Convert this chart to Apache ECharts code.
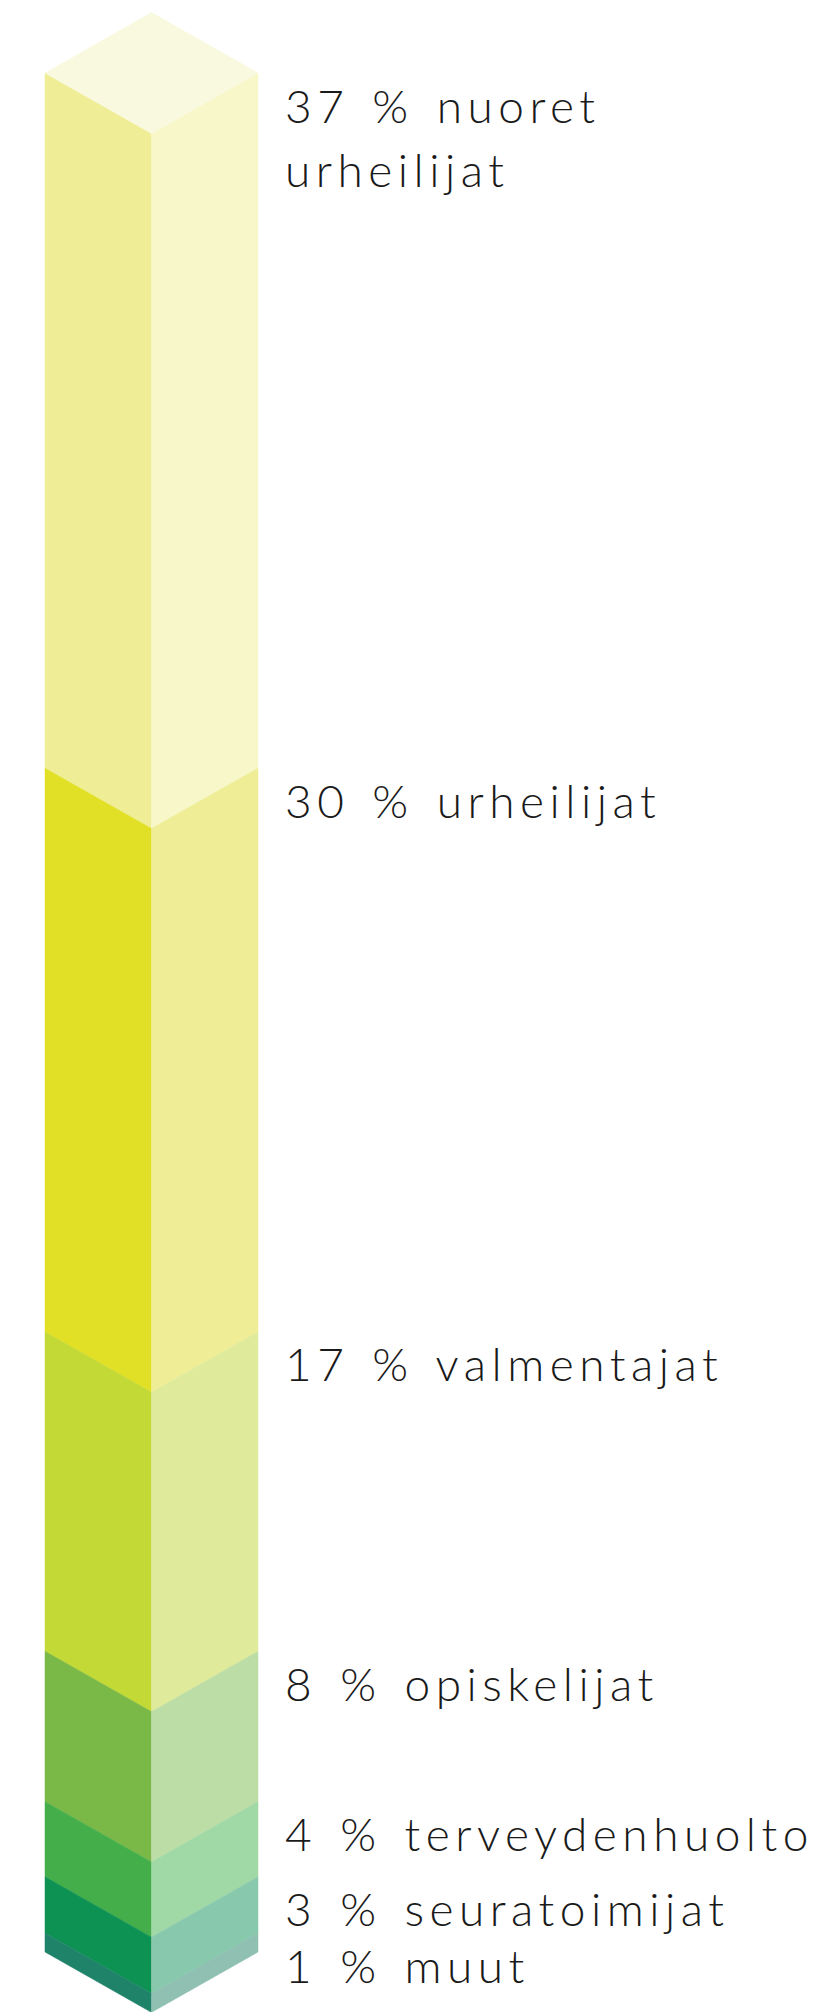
<!DOCTYPE html>
<html>
<head>
<meta charset="utf-8">
<title>Jakauma</title>
<script src="https://cdn.jsdelivr.net/npm/echarts@6/dist/echarts.min.js"></script>
<style>
  html, body { margin: 0; padding: 0; background: #fff; }
  #chart { width: 822px; height: 2012px; }
  /* väljä kirjainväli kuten alkuperäisessä */
  #chart text { letter-spacing: 5.5px; word-spacing: 5px; }
</style>
</head>
<body>
<div id="chart"></div>
<script>
// osuudet (%) ja nimet, ylhäältä alas
const shares = [37, 30, 17, 8, 4, 3, 1];
const names = ['nuoret\nurheilijat', 'urheilijat', 'valmentajat', 'opiskelijat', 'terveydenhuolto', 'seuratoimijat', 'muut'];
// värit: vasen sivu, oikea sivu
const leftColors = ['#EFEE97', '#E1E026', '#C3D935', '#7AB948', '#43AE4A', '#0E9254', '#1F836A'];
const rightColors = ['#F7F7C9', '#EFEE97', '#DFEA9B', '#BDDDA6', '#A0D8A6', '#88C9AD', '#8FC0B2'];
const topColor = '#F8F9DF';

// kasautetut alku- ja loppuarvot
let acc = 0;
const segments = shares.map(function (v, i) {
  const s = acc;
  acc += v;
  return [s, acc, i];
});

const chart = echarts.init(document.getElementById('chart'), null, { renderer: 'svg' });

function renderItem(params, api) {
  const start = api.value(0);
  const end = api.value(1);
  const i = api.value(2);
  const L0 = api.coord([0, start]), C0 = api.coord([1, start]), R0 = api.coord([2, start]);
  const L1 = api.coord([0, end]), C1 = api.coord([1, end]), R1 = api.coord([2, end]);
  const d = (C0[0] - L0[0]) * 0.567;
  const children = [];
  children.push({
    type: 'polygon',
    shape: { points: [[L0[0], L0[1]], [C0[0], C0[1] + d], [C1[0], C1[1] + d], [L1[0], L1[1]]] },
    style: { fill: leftColors[i], stroke: leftColors[i], lineWidth: 0.5 }
  });
  children.push({
    type: 'polygon',
    shape: { points: [[C0[0], C0[1] + d], [R0[0], R0[1]], [R1[0], R1[1]], [C1[0], C1[1] + d]] },
    style: { fill: rightColors[i], stroke: rightColors[i], lineWidth: 0.5 }
  });
  if (i === 0) {
    children.push({
      type: 'polygon',
      shape: { points: [[L0[0], L0[1]], [C0[0], C0[1] - d], [R0[0], R0[1]], [C0[0], C0[1] + d]] },
      style: { fill: topColor, stroke: topColor, lineWidth: 0.5 }
    });
  }
  children.push({
    type: 'text',
    x: R0[0] + 27,
    y: L0[1],
    style: {
      text: shares[i] + ' % ' + names[i],
      fill: '#1a1a1a',
      font: '300 46px Lato, "Open Sans", sans-serif',
      lineHeight: 64,
      verticalAlign: 'top',
      align: 'left'
    }
  });
  return { type: 'group', children: children };
}

chart.setOption({
  animation: false,
  grid: { left: 45, right: 564, top: 73, bottom: 60 },
  xAxis: { type: 'value', min: 0, max: 2, show: false },
  yAxis: { type: 'value', min: 0, max: 100, inverse: true, show: false },
  series: [{
    type: 'custom',
    renderItem: renderItem,
    clip: false,
    encode: { x: -1, y: [0, 1] },
    data: segments
  }]
});
</script>
</body>
</html>
